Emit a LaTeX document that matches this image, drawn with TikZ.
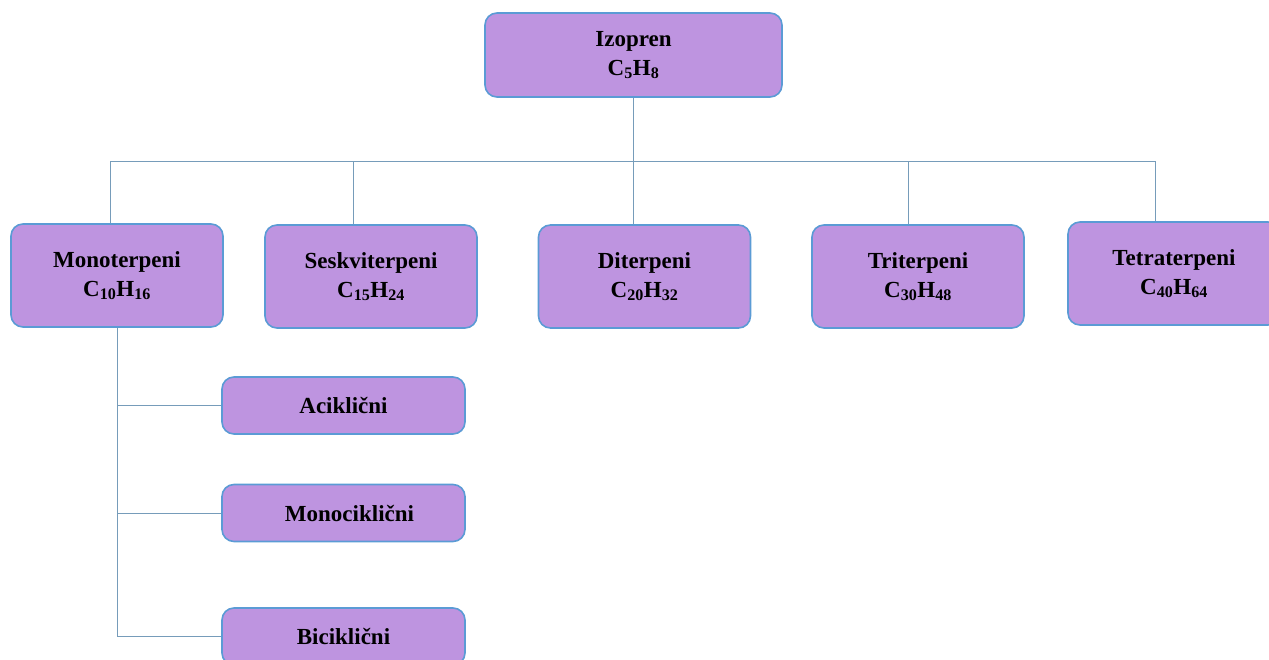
\documentclass[tikz,border=0pt]{standalone}
\usepackage{fontspec}
\setmainfont{Liberation Serif}
\definecolor{ljubicasta}{RGB}{190,148,224}
\definecolor{rubplava}{RGB}{91,155,213}
\definecolor{linija}{RGB}{118,156,186}
\begin{document}
\begin{tikzpicture}  % ------ Terpeni -----------------------------
      [x=1pt,y=-1pt,
       kutija/.style={draw=rubplava, line width=1.6pt, fill=ljubicasta, rounded corners=12pt,
                      align=center, inner sep=0pt, minimum width=212pt, minimum height=103pt,
                      font=\fontsize{23}{29}\selectfont\bfseries},
       mala/.style={kutija, minimum width=243pt, minimum height=57pt},
       veza/.style={draw=linija, line width=1pt}]

    \useasboundingbox (0,0) rectangle (1269,659);

    \node[kutija, minimum width=297pt, minimum height=84pt] (izo) at (633.5,55) {Izopren\\C\textsubscript{5}H\textsubscript{8}};

    \node[kutija] (mono)  at (117,275.5)  {Monoterpeni\\C\textsubscript{10}H\textsubscript{16}};
    \node[kutija] (seskv) at (371,276.5)  {Seskviterpeni\\C\textsubscript{15}H\textsubscript{24}};
    \node[kutija] (di)    at (644.5,276.5){Diterpeni\\C\textsubscript{20}H\textsubscript{32}};
    \node[kutija] (tri)   at (918,276.5)  {Triterpeni\\C\textsubscript{30}H\textsubscript{48}};
    \node[kutija] (tetra) at (1174,273.5) {Tetraterpeni\\C\textsubscript{40}H\textsubscript{64}};

    \node[mala] (aci)  at (343.5,405.5) {Aciklični};
    \node[mala] (moci) at (343.5,513)   {\hspace{12pt}Monociklični};
    \node[mala] (bici) at (343.5,636.5) {Biciklični};

%   sabirnica
    \coordinate (b1) at (110,161);
    \coordinate (b2) at (353,161);
    \coordinate (b3) at (633.5,161);
    \coordinate (b4) at (908,161);
    \coordinate (b5) at (1155,161);

    \draw[veza] (izo.south) -- (b3);
    \draw[veza] (b1) -- (b5);
    \draw[veza] (b1) -- (b1 |- mono.north);  \draw[veza] (b2) -- (b2 |- seskv.north);
    \draw[veza] (b3) -- (b3 |- di.north);    \draw[veza] (b4) -- (b4 |- tri.north);
    \draw[veza] (b5) -- (b5 |- tetra.north);

    \draw[veza] (mono.south) -- (mono.south |- bici.west);
    \draw[veza] (mono.south |- aci.west) -- (aci.west);
    \draw[veza] (mono.south |- moci.west) -- (moci.west);
    \draw[veza] (mono.south |- bici.west) -- (bici.west);

\end{tikzpicture}
\end{document}
